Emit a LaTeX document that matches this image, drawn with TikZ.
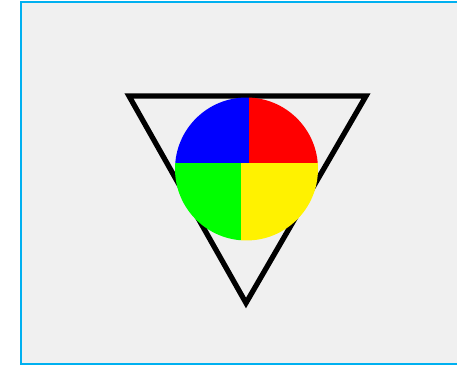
\documentclass[tikz,border=0pt]{standalone}
\usepackage{tikz}
\definecolor{panelgray}{HTML}{F0F0F0}
\definecolor{framecyan}{HTML}{00B0F0}
\begin{document}
\begin{tikzpicture}[
    x=0.02cm, y=-0.02cm,
    panel/.style={draw=framecyan, fill=panelgray, line width=1.4pt},
    outline/.style={draw=black, line width=3pt, miter limit=4},
]
\useasboundingbox (0,0) rectangle (457,367);
\clip (0,0) rectangle (457,367);
\fill[white] (0,0) rectangle (457,367);
\draw[panel] (21,2) rectangle (480,364);
% triangle
\coordinate (tl) at (129,96);
\coordinate (tr) at (366,96);
\coordinate (bt) at (246,303);
\draw[outline] (tl) -- (tr) -- (bt) -- cycle;
% four coloured quarters
\coordinate (c) at (246.5,169);
\begin{scope}
  \clip (c) circle [radius=1.43cm];
  \fill[blue]   (170,90)    rectangle (249,163.5);
  \fill[red]    (249,90)    rectangle (325,163.5);
  \fill[green]  (170,163.5) rectangle (241,250);
  \fill[yellow] (241,163.5) rectangle (325,250);
\end{scope}
\end{tikzpicture}
\end{document}
